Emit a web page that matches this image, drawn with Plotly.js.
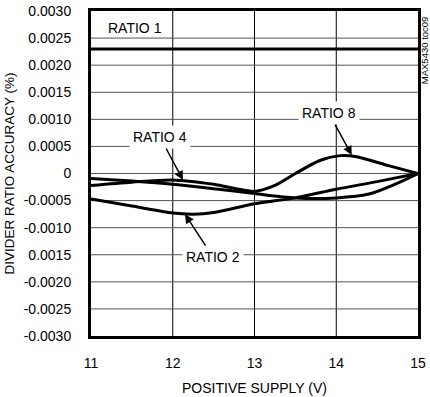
<!DOCTYPE html>
<html>
<head>
<meta charset="utf-8">
<script src="https://cdn.plot.ly/plotly-3.0.1.min.js"></script>
<style>html,body{margin:0;padding:0;background:#fff}#chart{width:430px;height:397px}</style>
</head>
<body>
<div id="chart"></div>
<script>
const supplyX1 = [11, 11.5, 12, 12.5, 13, 13.5, 14, 14.5, 15];
const ratio1 = [0.0023, 0.0023, 0.0023, 0.0023, 0.0023, 0.0023, 0.0023, 0.0023, 0.0023];

const supplyX2 = [11, 11.5, 12, 12.25, 12.5, 13, 13.5, 14, 14.5, 15];
const ratio2 = [-0.00047, -0.0006, -0.00073, -0.00075, -0.00072, -0.00056, -0.00045, -0.00029, -0.00015, 0];

const supplyX4 = [11, 11.5, 12, 12.5, 13, 13.5, 14, 14.4, 14.7, 15];
const ratio4 = [-0.00009, -0.00014, -0.0002, -0.00028, -0.00037, -0.00045, -0.00045, -0.00038, -0.00021, 0];

const supplyX8 = [11, 11.5, 12, 12.5, 13, 13.25, 13.5, 13.8, 14.05, 14.25, 14.65, 15];
const ratio8 = [-0.00022, -0.00016, -0.00012, -0.0002, -0.00033, -0.00022, 0.0, 0.00024, 0.00033, 0.00031, 0.00014, 0];

const yTickVals = [0.003, 0.0025, 0.002, 0.0015, 0.001, 0.0005, 0, -0.0005, -0.001, -0.0015, -0.002, -0.0025, -0.003];
const yTickText = ['0.0030', '0.0025', '0.0020', '0.0015', '0.0010', '0.0005', '0', '-0.0005', '-0.0010', '0.0015', '-0.0020', '-0.0025', '-0.0030'];
const xTickVals = [11, 12, 13, 14, 15];

const FONT = 'Liberation Sans, Arial, sans-serif';

const mkLine = () => ({color: '#000', width: 3, shape: 'spline', smoothing: 0.8});
const traces = [
  {x: supplyX1, y: ratio1, mode: 'lines', line: mkLine(), name: 'RATIO 1'},
  {x: supplyX2, y: ratio2, mode: 'lines', line: mkLine(), name: 'RATIO 2'},
  {x: supplyX4, y: ratio4, mode: 'lines', line: mkLine(), name: 'RATIO 4'},
  {x: supplyX8, y: ratio8, mode: 'lines', line: mkLine(), name: 'RATIO 8'}
];

// grid lines built from the tick arrays (interior ticks only)
const gridShapes = [];
xTickVals.slice(1, -1).forEach(v => gridShapes.push({
  type: 'line', xref: 'x', yref: 'paper', x0: v, x1: v, y0: 0, y1: 1, layer: 'below',
  line: {color: '#000', width: 1}
}));
yTickVals.slice(1, -1).forEach(v => gridShapes.push({
  type: 'line', xref: 'paper', yref: 'y', x0: 0, x1: 1, y0: v, y1: v, layer: 'below',
  line: {color: '#555', width: 1}
}));

const ann = (text, x, y, ax, ay, arrow) => ({
  text: text, x: x, y: y, xref: 'x', yref: 'y', ax: ax, ay: ay,
  showarrow: arrow, arrowhead: 2, arrowsize: 1.2, arrowwidth: 1.5, arrowcolor: '#000',
  bgcolor: '#fff', borderpad: 3, font: {family: FONT, size: 14, color: '#000'}
});

const layout = {
  width: 430, height: 397,
  margin: {l: 91, r: 12, t: 11, b: 61},
  paper_bgcolor: '#fff',
  showlegend: false,
  font: {family: FONT, size: 14, color: '#000'},
  xaxis: {
    range: [11, 15], tickmode: 'array', tickvals: xTickVals,
    ticks: 'outside', ticklen: 12, tickcolor: 'rgba(0,0,0,0)',
    showgrid: false, zeroline: false,
    showline: true, linecolor: '#000', linewidth: 3, mirror: 'all',
    title: {text: 'POSITIVE SUPPLY (V)', font: {family: FONT, size: 14}, standoff: 14}
  },
  yaxis: {
    range: [-0.003, 0.003], tickmode: 'array', tickvals: yTickVals, ticktext: yTickText,
    ticks: 'outside', ticklen: 14, tickcolor: 'rgba(0,0,0,0)',
    showgrid: false, zeroline: false,
    showline: true, linecolor: '#000', linewidth: 3, mirror: 'all',
    title: {text: 'DIVIDER RATIO ACCURACY (%)', font: {family: FONT, size: 13.5}, standoff: 6}
  },
  shapes: gridShapes,
  annotations: [
    Object.assign(ann('RATIO 1', 11.54, 0.00268, 0, 0, false), {bgcolor: 'rgba(0,0,0,0)'}),
    ann('RATIO 4', 12.125, -0.00012, -23, -43, true),
    ann('RATIO 8', 14.19, 0.00034, -23, -42, true),
    ann('RATIO 2', 12.15, -0.00075, 28, 43, true),
    {text: 'MAX5430 toc09', xref: 'paper', yref: 'paper', x: 1.019, y: 0.88, xanchor: 'center', yanchor: 'middle',
     textangle: -90, showarrow: false, font: {family: FONT, size: 9.5, color: '#000'}}
  ]
};

Plotly.newPlot('chart', traces, layout, {displayModeBar: false});
</script>
</body>
</html>
